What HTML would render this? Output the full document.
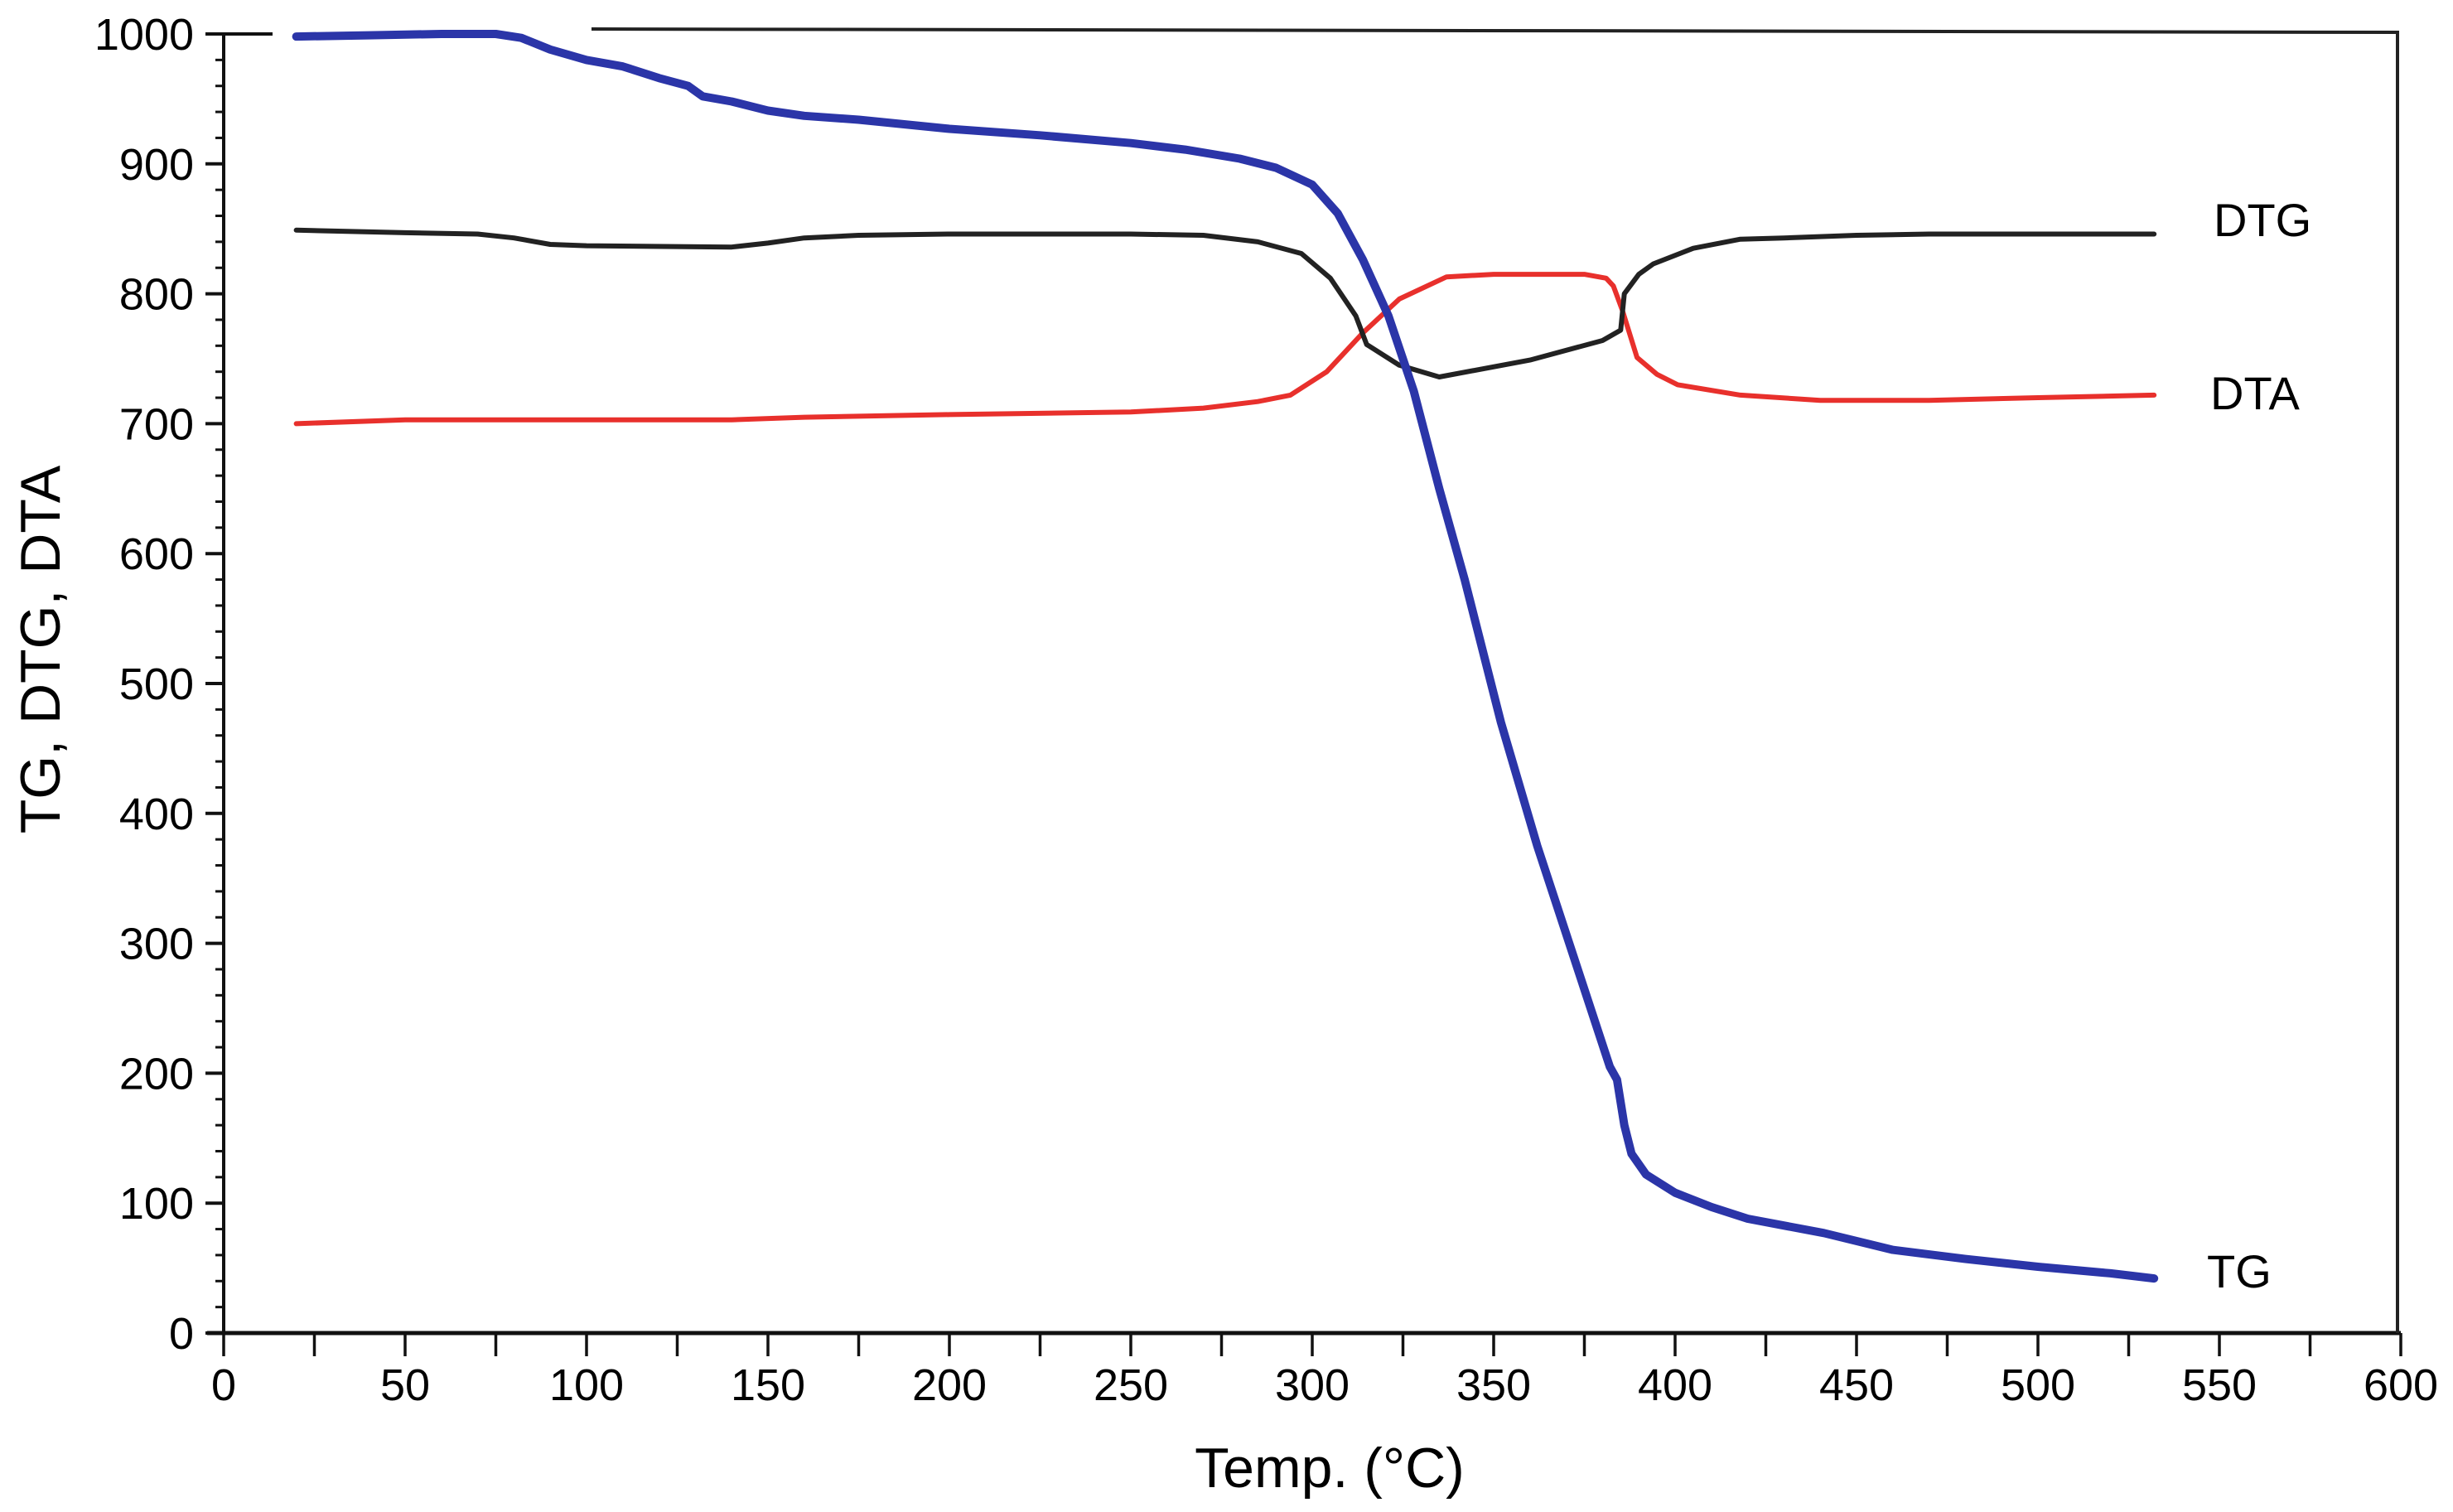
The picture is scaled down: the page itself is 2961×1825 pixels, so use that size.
<!DOCTYPE html>
<html><head><meta charset="utf-8"><style>
html,body{margin:0;padding:0;background:#fff;}
svg{display:block;font-family:"Liberation Sans",sans-serif;}
</style></head><body>
<svg id="chart" width="2961" height="1825" viewBox="0 0 2961 1825"></svg>
<script>
const xTicks=[0,50,100,150,200,250,300,350,400,450,500,550,600];
const yTicks=[0,100,200,300,400,500,600,700,800,900,1000];
const tgT=[20,40,60,75,82,90,100,110,120,128,132,140,150,160,175,200,225,250,265,280,290,300,307,314,321,328,335,342,352,362,372,382,384,386,388,392,400,410,420,441,460,480,500,520,532];
const tgV=[998,999,1000,1000,997,988,980,975,966,960,952,948,941,937,934,927,922,916,911,904,897,884,862,826,783,725,650,580,470,375,290,205,195,160,138,122,108,97,88,77,64,57,51,46,42];
const dtgT=[20,50,70,80,90,100,140,150,160,175,200,250,270,285,297,305,312,315,324,335,360,380,385,386,390,394,405,418,430,450,470,500,532];
const dtgV=[849,847,846,843,838,837,836,839,843,845,846,846,845,840,831,812,783,761,745,736,749,764,772,800,815,823,835,842,843,845,846,846,846];
const dtaT=[20,50,100,140,160,200,250,270,285,294,304,314,324,337,350,375,381,383,385.5,389.5,395,400.7,418,440,470,500,532];
const dtaV=[700,703,703,703,705,707,709,712,717,722,740,770,796,813,815,815,812,806,787,751,738,730,722,718,718,720,722];

const NS='http://www.w3.org/2000/svg';
const svg=document.getElementById('chart');
const X=v=>270+v*4.38;
const Y=v=>1609-v*1.568;
function mk(tag,attrs,parent){const e=document.createElementNS(NS,tag);for(const k in attrs)e.setAttribute(k,attrs[k]);(parent||svg).appendChild(e);return e;}

let e;
e=mk('line',{x1:X(0),y1:Y(1000),x2:X(0),y2:Y(0)+2,stroke:'#111','stroke-width':4});


e=mk('line',{x1:X(0)-20,y1:Y(0),x2:2898,y2:Y(0),stroke:'#111','stroke-width':5});


e=mk('line',{x1:2894,y1:37,x2:2894,y2:Y(0),stroke:'#222','stroke-width':4});


e=mk('line',{x1:714,y1:35,x2:2896,y2:39,stroke:'#222','stroke-width':4});


e=mk('line',{x1:X(0),y1:Y(1000),x2:329,y2:Y(1000),stroke:'#111','stroke-width':4});



for(let v=0;v<=1000;v+=20){
  const major=v%100===0;
  e=mk('line',{x1:X(0)-(major?22:10),y1:Y(v),x2:X(0),y2:Y(v),stroke:'#111','stroke-width':major?4:3});
  
  
}
yTicks.forEach(v=>{
  e=mk('text',{x:234,y:Y(v)+19,'text-anchor':'end','font-size':54,fill:'#000'});
  e.textContent=v;
  
  
});
for(let v=0;v<=600;v+=25){
  e=mk('line',{x1:X(v),y1:Y(0),x2:X(v),y2:Y(0)+28,stroke:'#111','stroke-width':3.5});
  
  
}
xTicks.forEach(v=>{
  e=mk('text',{x:X(v),y:1690,'text-anchor':'middle','font-size':54,fill:'#000'});
  e.textContent=v;
  
  
});
e=mk('text',{x:1605,y:1795,'text-anchor':'middle','font-size':68,fill:'#000'});
e.textContent='Temp. (°C)';


e=mk('text',{x:0,y:0,'text-anchor':'middle','font-size':68,fill:'#000',transform:'translate(72,784) rotate(-90)'});
e.textContent='TG, DTG, DTA';



function path(ts,vs){return ts.map((t,i)=>(i?'L':'M')+X(t).toFixed(1)+','+Y(vs[i]).toFixed(1)).join(' ');}
e=mk('path',{d:path(dtaT,dtaV),fill:'none',stroke:'#e8302c','stroke-width':6,'stroke-linejoin':'round','stroke-linecap':'round'});


e=mk('path',{d:path(dtgT,dtgV),fill:'none',stroke:'#222','stroke-width':6,'stroke-linejoin':'round','stroke-linecap':'round'});


e=mk('path',{d:path(tgT,tgV),fill:'none',stroke:'#2b35a8','stroke-width':10,'stroke-linejoin':'round','stroke-linecap':'round'});



[['DTG',2672,285,'dtg-label'],['DTA',2668,494,'dta-label'],['TG',2664,1554,'tg-label']].forEach(l=>{
  e=mk('text',{x:l[1],y:l[2],'font-size':56,fill:'#000'});
  e.textContent=l[0];
  
  
});
</script>
</body></html>
